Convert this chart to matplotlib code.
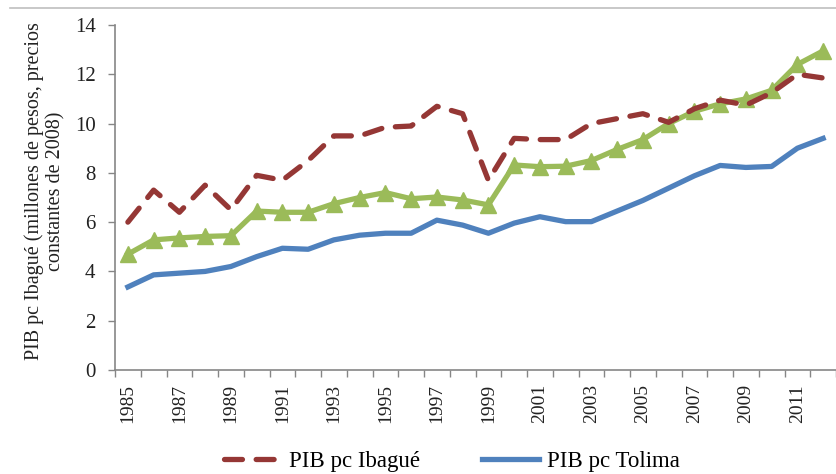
import matplotlib
matplotlib.use('Agg')
import matplotlib.pyplot as plt
from matplotlib.lines import Line2D

# 데이터
years = list(range(1985, 2013))
pib_ibague = [6.0, 7.3, 6.4, 7.5, 6.5, 7.9, 7.7, 8.5, 9.5, 9.5, 9.85, 9.9, 10.7, 10.4,
              7.7, 9.4, 9.35, 9.35, 10.0, 10.2, 10.4, 10.05, 10.6, 10.95, 10.75, 11.25, 12.0, 11.85]
pib_tolima = [3.37, 3.86, 3.93, 4.0, 4.2, 4.6, 4.94, 4.9, 5.28, 5.47, 5.55, 5.55, 6.08, 5.88,
              5.55, 5.96, 6.22, 6.02, 6.02, 6.45, 6.88, 7.38, 7.88, 8.3, 8.22, 8.26, 9.0, 9.4]
pib_verde = [4.7, 5.28, 5.36, 5.42, 5.45, 6.45, 6.4, 6.4, 6.75, 7.0, 7.2, 6.95, 7.02, 6.9,
             6.7, 8.32, 8.25, 8.27, 8.5, 8.95, 9.35, 10.0, 10.5, 10.8, 11.0, 11.35, 12.4, 12.95]
yticks = [0, 2, 4, 6, 8, 10, 12, 14]

plt.rcParams['font.family'] = ['Liberation Serif', 'DejaVu Serif']

fig = plt.figure(figsize=(8.36, 4.74), dpi=100)
ax = fig.add_axes([115 / 836, 1 - 370 / 474, 1 - 115 / 836, 345 / 474])

ax.plot(years, pib_verde, color='#9BBB59', lw=3.8, marker='^', ms=11,
        markeredgecolor='#9BBB59', zorder=2)
ax.plot(years, pib_ibague, color='#953735', lw=3.8, dashes=(3.4, 2.6),
        dash_capstyle='round', label='PIB pc Ibagué', zorder=3)
ax.plot(years, pib_tolima, color='#4F81BD', lw=3.8, label='PIB pc Tolima', zorder=3)

ax.set_xlim(1984.5, 1984.5 + (836 - 115) / 26.3)
ax.set_ylim(0, 14)
ax.set_yticks(yticks)
ax.tick_params(axis='y', labelsize=15, length=5, width=1, color='#868686', pad=9,
               labelcolor='#222222')

# 눈금은 칸 경계, 라벨은 2년마다 가운데
ax.set_xticks([y - 0.5 for y in years] + [years[-1] + 0.5])
ax.set_xticklabels([])
ax.tick_params(axis='x', which='major', length=5, width=1, color='#868686')
ax.set_xticks(years[::2], minor=True)
ax.set_xticklabels([str(y) for y in years[::2]], minor=True, rotation=90)
ax.tick_params(axis='x', which='minor', length=0, labelsize=14, pad=10,
               labelcolor='#222222')

for s in ['top', 'right']:
    ax.spines[s].set_visible(False)
for s in ['left', 'bottom']:
    ax.spines[s].set_color('#868686')
    ax.spines[s].set_linewidth(1.2)

fig.text(45 / 836, 1 - 191 / 474,
         'PIB pc Ibagué (millones de pesos, precios\nconstantes de 2008)',
         rotation=90, ha='center', va='center', multialignment='center',
         fontsize=14.5, linespacing=1.15, color='#222222')

fig.legend(loc='center', bbox_to_anchor=(452 / 836, 1 - 461 / 474), ncol=2, frameon=False,
           fontsize=16.5, handlelength=2.5, handletextpad=0.35, columnspacing=2.7)

fig.add_artist(Line2D([10 / 836, 1], [1 - 8 / 474, 1 - 8 / 474], color='#BFBFBF', lw=1.2))

fig.savefig('out.png', dpi=100)
